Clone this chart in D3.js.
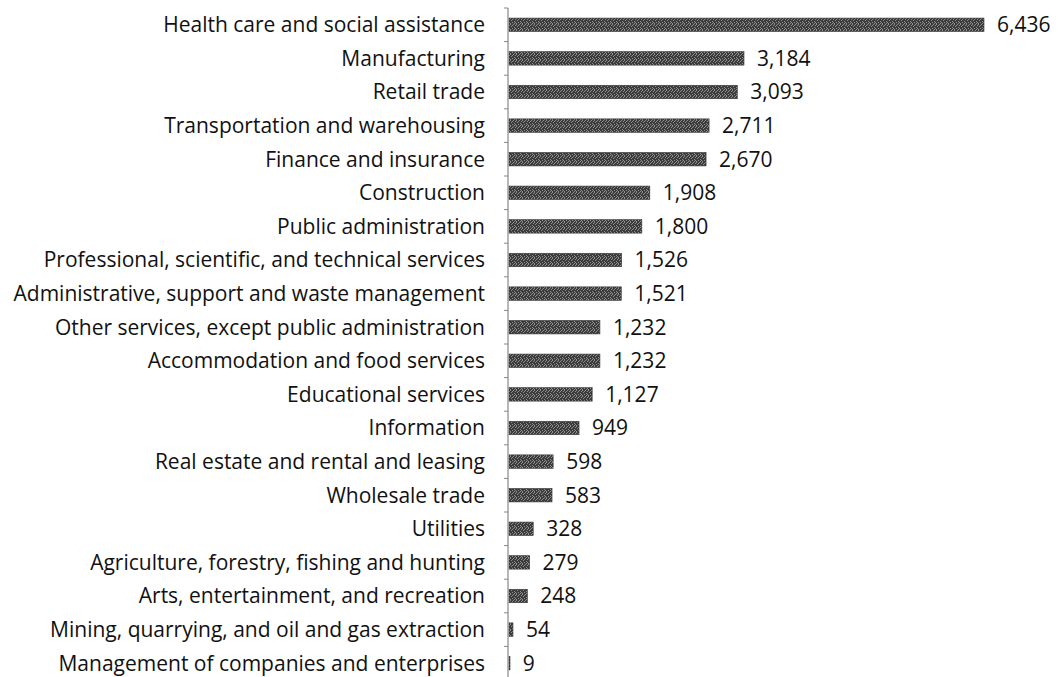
<!DOCTYPE html>
<html>
<head>
<meta charset="utf-8">
<script src="https://cdn.jsdelivr.net/npm/d3@7"></script>
<style>
  body { margin: 0; background: #fff; }
  svg { display: block; }
</style>
</head>
<body>
<svg id="chart"></svg>
<script>
// Employment by industry
const categories = [
  "Health care and social assistance",
  "Manufacturing",
  "Retail trade",
  "Transportation and warehousing",
  "Finance and insurance",
  "Construction",
  "Public administration",
  "Professional, scientific, and technical services",
  "Administrative, support and waste management ",
  "Other services, except public administration",
  "Accommodation and food services",
  "Educational services",
  "Information",
  "Real estate and rental and leasing",
  "Wholesale trade",
  "Utilities",
  "Agriculture, forestry, fishing and hunting",
  "Arts, entertainment, and recreation",
  "Mining, quarrying, and oil and gas extraction",
  "Management of companies and enterprises"
];
const values = [6436, 3184, 3093, 2711, 2670, 1908, 1800, 1526, 1521, 1232, 1232, 1127, 949, 598, 583, 328, 279, 248, 54, 9];

const W = 1058, H = 677;
const axisX = 508;
const svg = d3.select("#chart").attr("width", W).attr("height", H);

// dithered dark fill like the original
const defs = svg.append("defs");
const pat = defs.append("pattern").attr("id", "dither")
  .attr("width", 6).attr("height", 6).attr("patternUnits", "userSpaceOnUse");
pat.append("rect").attr("width", 6).attr("height", 6).attr("fill", "#3c3c3c");
[[0, 0], [3, 0], [5, 1], [1, 2], [4, 3], [2, 4], [0, 5], [4, 5], [2, 1], [5, 4]].forEach(([px, py]) =>
  pat.append("rect").attr("x", px).attr("y", py).attr("width", 1).attr("height", 1).attr("fill", "#8e8e8e"));

const x = d3.scaleLinear().domain([0, 6436]).range([axisX, 983]);
const y = d3.scaleBand().domain(categories).range([8, 680]).paddingInner(0.6).paddingOuter(0.3);

const font = "'Open Sans', Lato, sans-serif";
const fontSize = 21;

// bars
svg.append("g").selectAll("rect")
  .data(values).join("rect")
  .attr("x", axisX + 1)
  .attr("y", (d, i) => y(categories[i]))
  .attr("width", d => Math.max(1, x(d) - axisX))
  .attr("height", y.bandwidth())
  .attr("fill", "url(#dither)")
  .attr("stroke", "#333").attr("stroke-width", 0.6);

// axis line with ticks at band boundaries
const axisG = svg.append("g");
axisG.append("line")
  .attr("x1", axisX).attr("x2", axisX)
  .attr("y1", 8).attr("y2", 680)
  .attr("stroke", "#888").attr("stroke-width", 1.2);
d3.range(categories.length + 1).forEach(i => {
  const ty = 8 + i * (672 / categories.length);
  axisG.append("line")
    .attr("x1", axisX - 4).attr("x2", axisX)
    .attr("y1", ty).attr("y2", ty)
    .attr("stroke", "#888").attr("stroke-width", 1);
});

// category labels
svg.append("g").selectAll("text")
  .data(categories).join("text")
  .attr("x", 485)
  .attr("y", d => y(d) + y.bandwidth() / 2)
  .attr("dy", "0.35em")
  .attr("text-anchor", "end")
  .attr("font-family", font).attr("font-size", fontSize).attr("fill", "#111")
  .text(d => d);

// value labels
svg.append("g").selectAll("text")
  .data(values).join("text")
  .attr("x", d => x(d) + 14)
  .attr("y", (d, i) => y(categories[i]) + y.bandwidth() / 2)
  .attr("dy", "0.35em")
  .attr("font-family", font).attr("font-size", fontSize).attr("fill", "#111")
  .text(d => d3.format(",")(d));
</script>
</body>
</html>
